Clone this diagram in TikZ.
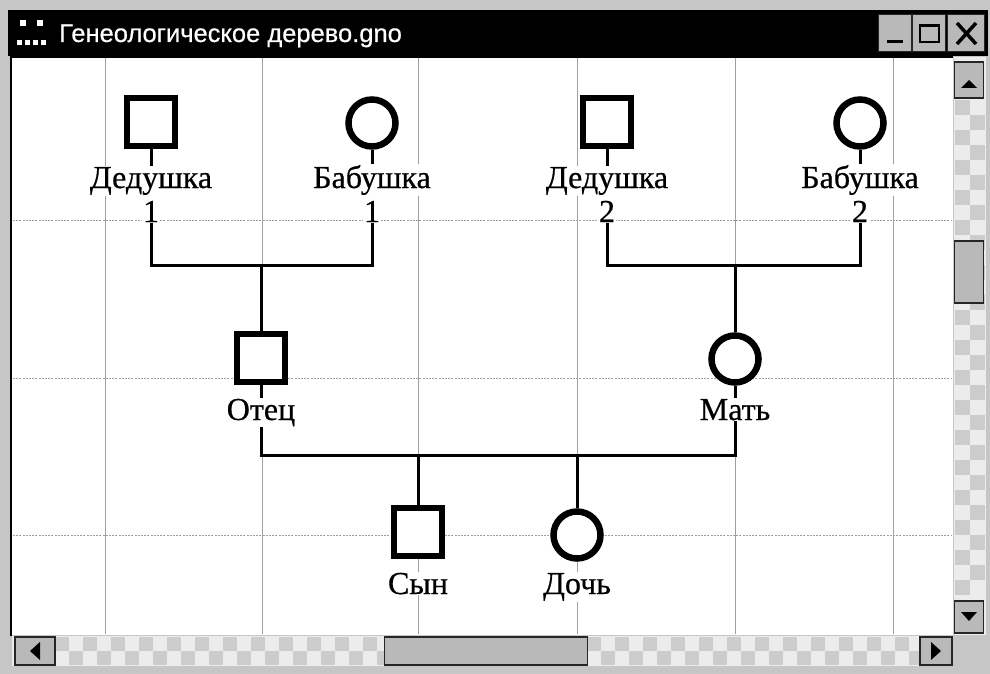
\documentclass[tikz,border=0pt]{standalone}
\usepackage{fontspec}
\setmainfont{Liberation Serif}
\newfontfamily\lblfont{Liberation Serif}[FakeBold=0.6]
\newfontfamily\titlefont{Liberation Sans}[FakeBold=0.5]
\pgfdeclarelayer{gridlayer}
\pgfdeclarelayer{linklayer}
\pgfsetlayers{gridlayer,linklayer,main}
\begin{document}
\begin{tikzpicture}[x=1pt,y=-1pt,
  male/.style={rectangle,draw=black,line width=6.5pt,fill=white,minimum size=48pt,inner sep=0pt},
  female/.style={circle,draw=black,line width=6.5pt,fill=white,minimum size=47pt,inner sep=0pt},
  lbl/.style={fill=white,inner sep=1pt,font=\lblfont\fontsize{32}{36}\selectfont,anchor=base},
  lblnum/.style={lbl,text height=30pt},
  link/.style={line width=3pt,black},
  gridv/.style={gray!75,line width=0.9pt},
  gridh/.style={gray!75,line width=1pt,dash pattern=on 2pt off 1.2pt},
  btn/.style={rectangle,draw=black!85,line width=1.5pt,fill=gray!55,inner sep=0pt},
  tri/.style={fill=black}
]
\useasboundingbox (0,0) rectangle (990,674);
\begin{pgfonlayer}{gridlayer}
  % window frame
  \fill[gray!45] (0,0) rectangle (990,674);
  \fill[black] (8,10) rectangle (988,56);
  % client area
  \fill[white] (12,57) rectangle (953,635);
  \draw[black,line width=2pt] (11,636) -- (11,57) -- (953,57);
  % grid
  \foreach \gx in {105,262,418,577,735,893}
    \draw[gridv] (\gx,58) -- (\gx,634);
  \foreach \gy in {220,378,535}
    \draw[gridh] (13,\gy) -- (952,\gy);
  % vertical scrollbar track
  \fill[gray!15] (954,57) rectangle (986,635);
  \foreach \i in {0,...,32}{
    \foreach \j in {0,1}{
      \pgfmathtruncatemacro\k{mod(\i+\j,2)}
      \ifnum\k=0
        \fill[gray!40] ({955+15*\j},{100+15*\i}) rectangle ++(15,15);
      \fi
    }
  }
  % horizontal scrollbar track
  \fill[gray!15] (12,636) rectangle (954,666);
  \foreach \i in {0,...,61}{
    \foreach \j in {0,1}{
      \pgfmathtruncatemacro\k{mod(\i+\j,2)}
      \ifnum\k=0
        \fill[gray!40] ({55+14*\i},{637+14*\j}) rectangle ++(14,14);
      \fi
    }
  }
  \fill[gray!45] (953,635) rectangle (986,666);
\end{pgfonlayer}

% title bar
\node[font=\titlefont\fontsize{25.5}{30}\selectfont,text=white,anchor=base west,inner sep=0pt] (title) at (59,42) {Генеологическое дерево.gno};
\fill[white] (20,20) rectangle (26,26);
\fill[white] (37,20) rectangle (43,26);
\fill[white] (17,40) rectangle (22,45);
\fill[white] (25,40) rectangle (30,45);
\fill[white] (33,40) rectangle (38,45);
\fill[white] (41,40) rectangle (46,45);

% title buttons
\node[btn,minimum width=33pt,minimum height=37pt] (bmin) at (895,33) {};
\node[btn,minimum width=33pt,minimum height=37pt] (bmax) at (929,33) {};
\node[btn,minimum width=37pt,minimum height=37pt] (bclose) at (966,33) {};
\draw[black,line width=3pt] (887,42) -- (903,42);
\draw[black,line width=2.5pt] (920,25) rectangle (939,42);
\draw[black,line width=1.5pt] (920,26.5) -- (939,26.5);
\draw[black,line width=3.5pt] (957,23) -- (976,44) (976,23) -- (957,44);

% scrollbar buttons and thumbs
\node[btn,minimum width=29pt,minimum height=36pt] (bup) at (969,80) {};
\fill[black] (961,88) -- (977,88) -- (969,80) -- cycle;
\node[btn,minimum width=29pt,minimum height=32pt] (bdown) at (969,617) {};
\fill[black] (961,612) -- (977,612) -- (969,621) -- cycle;
\node[btn,minimum width=29pt,minimum height=62pt] (vthumb) at (969,272) {};
\node[btn,minimum width=40pt,minimum height=28pt] (bleft) at (35,651) {};
\fill[black] (40,642) -- (40,660) -- (30,651) -- cycle;
\node[btn,minimum width=32pt,minimum height=28pt] (bright) at (936,651) {};
\fill[black] (931,642) -- (931,660) -- (941,651) -- cycle;
\node[btn,minimum width=203pt,minimum height=28pt] (hthumb) at (486,651) {};

% family members
\node[male] (g1) at (151,122) {};
\node[female] (b1) at (372,123) {};
\node[male] (g2) at (607,122) {};
\node[female] (b2) at (860,123) {};
\node[male] (f) at (261,358) {};
\node[female] (m) at (735,359) {};
\node[male] (s) at (418,532) {};
\node[female] (d) at (577,535) {};

% labels (numbers first, so the names stay on top)
\node[lblnum] (g1k) at (151,222) {1};
\node[lblnum] (b1k) at (372,222) {1};
\node[lblnum] (g2k) at (607,222) {2};
\node[lblnum] (b2k) at (860,222) {2};
\node[lbl] (g1n) at (151,188) {Дедушка};
\node[lbl] (b1n) at (372,188) {Бабушка};
\node[lbl] (g2n) at (607,188) {Дедушка};
\node[lbl] (b2n) at (860,188) {Бабушка};
\node[lbl] (fn) at (261,420) {Отец};
\node[lbl] (mn) at (735,420) {Мать};
\node[lbl] (sn) at (418,594) {Сын};
\node[lbl] (dn) at (577,594) {Дочь};

% connectors
\coordinate (j1) at (261,265);
\coordinate (j2) at (735,265);
\coordinate (j3) at (418,455);
\coordinate (j4) at (577,455);
\begin{pgfonlayer}{linklayer}
  \draw[link] (g1.south) |- (j1) -| (b1.south);
  \draw[link] (j1) -- (f.north);
  \draw[link] (g2.south) |- (j2) -| (b2.south);
  \draw[link] (j2) -- (m.north);
  \draw[link] (f.south) |- (j3) -- (j4) -| (m.south);
  \draw[link] (j3) -- (s.north);
  \draw[link] (j4) -- (d.north);
\end{pgfonlayer}
\end{tikzpicture}
\end{document}
